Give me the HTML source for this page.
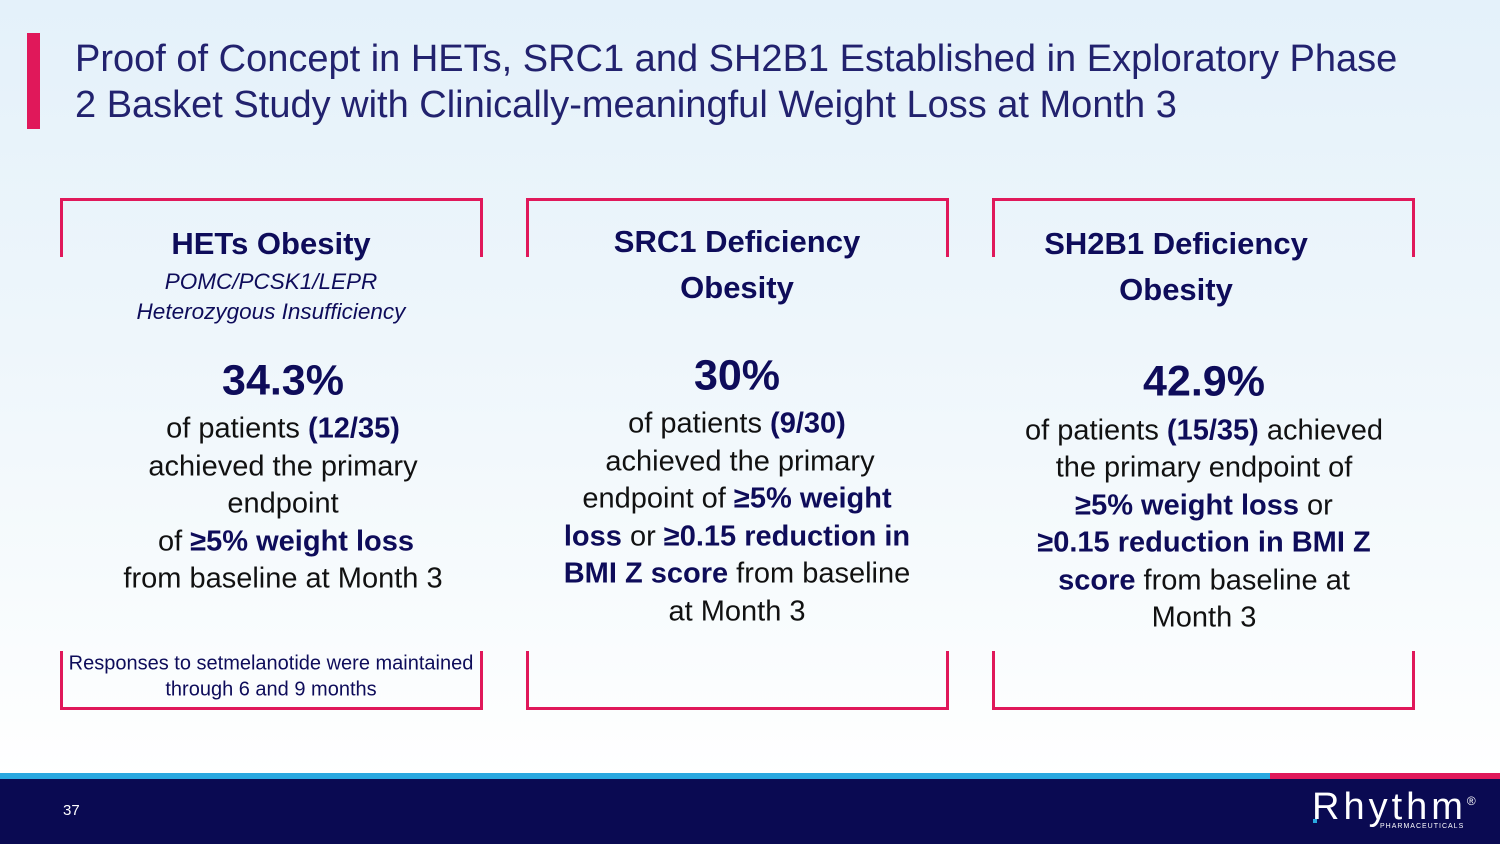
<!DOCTYPE html>
<html><head><meta charset="utf-8">
<style>
html,body{margin:0;padding:0}
body{width:1500px;height:844px;position:relative;overflow:hidden;font-family:"Liberation Sans",sans-serif;background:linear-gradient(180deg,#e4f1fa 0%,#eef6fb 40%,#f7fbfd 70%,#ffffff 92%)}
.a{position:absolute}
.l{position:absolute;transform:translate(-50%,-50%);white-space:nowrap;color:#111;font-size:29px}
.b{font-weight:bold;color:#0e0c5a}
.h{font-weight:bold;color:#0e0c5a;font-size:31px}
.i{font-style:italic;color:#0e0c5a;font-size:22.5px}
.p{font-weight:bold;color:#0e0c5a;font-size:43px}
.br{position:absolute;border:3px solid #e0185a;box-sizing:border-box}
.t{border-bottom:none}
.bt{border-top:none}
.title{position:absolute;left:75px;color:#22226e;font-size:38px;white-space:nowrap}
</style></head><body>
<div class="a" style="left:27px;top:33px;width:13px;height:96px;background:#e0185a"></div>
<div class="title" style="top:38px">Proof of Concept in HETs, SRC1 and SH2B1 Established in Exploratory Phase</div>
<div class="title" style="top:84px">2 Basket Study with Clinically-meaningful Weight Loss at Month 3</div>

<div class="br t" style="left:60px;top:198px;width:423px;height:59px"></div>
<div class="br bt" style="left:60px;top:651px;width:423px;height:59px"></div>
<div class="br t" style="left:526px;top:198px;width:423px;height:59px"></div>
<div class="br bt" style="left:526px;top:651px;width:423px;height:59px"></div>
<div class="br t" style="left:992px;top:198px;width:423px;height:59px"></div>
<div class="br bt" style="left:992px;top:651px;width:423px;height:59px"></div>

<!-- Column 1 -->
<div class="l h" style="left:271px;top:244px">HETs Obesity</div>
<div class="l i" style="left:271px;top:282px">POMC/PCSK1/LEPR</div>
<div class="l i" style="left:271px;top:312px">Heterozygous Insufficiency</div>
<div class="l p" style="left:283px;top:381px">34.3%</div>
<div class="l" style="left:283px;top:429px">of patients <span class="b">(12/35)</span></div>
<div class="l" style="left:283px;top:467px">achieved the primary</div>
<div class="l" style="left:283px;top:504px">endpoint</div>
<div class="l" style="left:286px;top:542px">of <span class="b">≥5% weight loss</span></div>
<div class="l" style="left:283px;top:579px">from baseline at Month 3</div>
<div class="l" style="left:271px;top:664px;font-size:20px;color:#0e0c5a">Responses to setmelanotide were maintained</div>
<div class="l" style="left:271px;top:690px;font-size:20px;color:#0e0c5a">through 6 and 9 months</div>

<!-- Column 2 -->
<div class="l h" style="left:737px;top:242px">SRC1 Deficiency</div>
<div class="l h" style="left:737px;top:288px">Obesity</div>
<div class="l p" style="left:737px;top:376px">30%</div>
<div class="l" style="left:737px;top:424px">of patients <span class="b">(9/30)</span></div>
<div class="l" style="left:740px;top:462px">achieved the primary</div>
<div class="l" style="left:737px;top:499px">endpoint of <span class="b">≥5% weight</span></div>
<div class="l" style="left:737px;top:537px"><span class="b">loss</span> or <span class="b">≥0.15 reduction in</span></div>
<div class="l" style="left:737px;top:574px"><span class="b">BMI Z score</span> from baseline</div>
<div class="l" style="left:737px;top:612px">at Month 3</div>

<!-- Column 3 -->
<div class="l h" style="left:1176px;top:244px">SH2B1 Deficiency</div>
<div class="l h" style="left:1176px;top:290px">Obesity</div>
<div class="l p" style="left:1204px;top:382px">42.9%</div>
<div class="l" style="left:1204px;top:431px">of patients <span class="b">(15/35)</span> achieved</div>
<div class="l" style="left:1204px;top:468px">the primary endpoint of</div>
<div class="l" style="left:1204px;top:506px"><span class="b">≥5% weight loss</span> or</div>
<div class="l" style="left:1204px;top:543px"><span class="b">≥0.15 reduction in BMI Z</span></div>
<div class="l" style="left:1204px;top:581px"><span class="b">score</span> from baseline at</div>
<div class="l" style="left:1204px;top:618px">Month 3</div>

<!-- Footer -->
<div class="a" style="left:0;top:773px;width:1270px;height:6px;background:#2aa8e0"></div>
<div class="a" style="left:1270px;top:773px;width:230px;height:6px;background:#e0185a"></div>
<div class="a" style="left:0;top:779px;width:1500px;height:65px;background:#0a0a52"></div>
<div class="a" style="left:63px;top:802px;color:#fff;font-size:15px">37</div>
<div class="a" style="left:1312px;top:786px;color:#fff;font-size:38px;letter-spacing:4px">Rhythm<span style="font-size:12px;vertical-align:top;position:relative;top:8px;letter-spacing:0">®</span></div>
<div class="a" style="left:1313px;top:819px;width:4px;height:4px;background:#2aa8e0"></div>
<div class="a" style="left:1380px;top:823px;color:#fff;font-size:7px;letter-spacing:1px">PHARMACEUTICALS</div>
</body></html>
